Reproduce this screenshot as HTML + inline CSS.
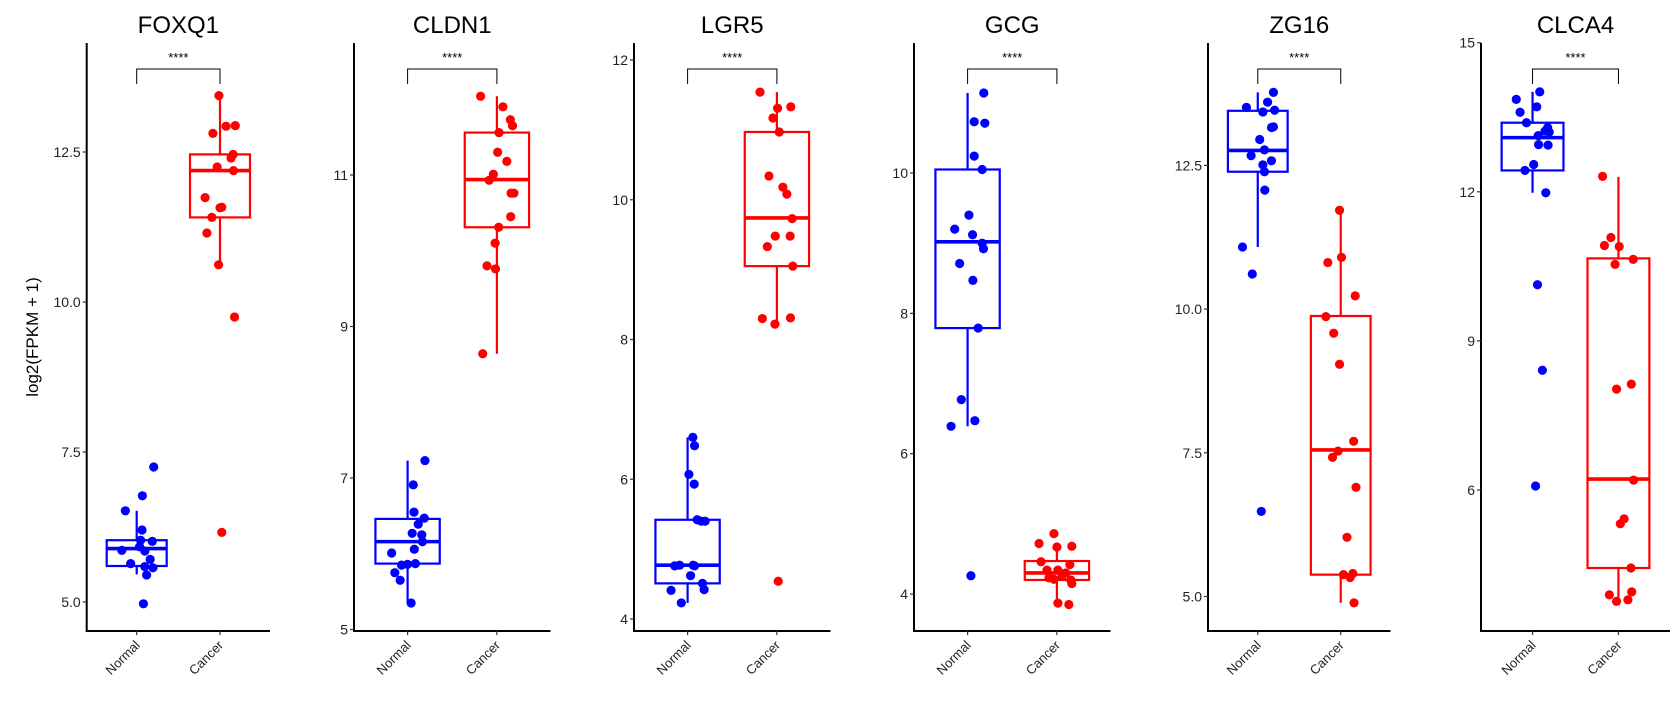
<!DOCTYPE html>
<html><head><meta charset="utf-8"><style>
html,body{margin:0;padding:0;background:#fff;}
svg{display:block;font-family:"Liberation Sans",Arial,sans-serif;}
</style></head><body>
<svg id="chart" width="1680" height="720" viewBox="0 0 1680 720" xmlns="http://www.w3.org/2000/svg">
<text transform="translate(38,337) rotate(-90)" text-anchor="middle" font-size="17" fill="#000">log2(FPKM + 1)</text>
</svg>
<script>
// ---- data ----
const genes = ["FOXQ1","CLDN1","LGR5","GCG","ZG16","CLCA4"];
const groups = ["Normal","Cancer"];
const tickValues = [[5,7.5,10,12.5],[5,7,9,11],[4,6,8,10,12],[4,6,8,10],[5,7.5,10,12.5],[6,9,12,15]];
const tickLabels = [["5.0","7.5","10.0","12.5"],["5","7","9","11"],["4","6","8","10","12"],["4","6","8","10"],["5.0","7.5","10.0","12.5"],["6","9","12","15"]];
const normalValues = [
 [6.52,6.77,7.25,6.20,6.03,6.01,5.86,5.92,5.85,5.71,5.64,5.59,5.57,5.45,4.97],
 [7.23,6.91,6.55,6.47,6.39,6.27,6.25,6.16,6.06,6.01,5.85,5.86,5.87,5.75,5.65,5.35],
 [6.60,6.48,6.07,5.93,5.42,5.40,5.40,4.76,4.77,4.77,4.76,4.62,4.51,4.42,4.41,4.23],
 [11.14,10.73,10.71,10.24,10.05,9.40,9.20,9.12,9.00,8.92,8.71,8.47,7.79,6.77,6.47,6.39,4.26],
 [13.77,13.51,13.60,13.43,13.46,13.16,13.17,12.95,12.77,12.67,12.58,12.51,12.39,12.07,11.08,10.61,6.48],
 [14.01,13.86,13.71,13.60,13.39,13.29,13.22,13.20,13.13,12.95,12.94,12.55,12.43,11.98,10.13,8.41,6.08]
];
const cancerValues = [
 [13.44,12.81,12.93,12.94,12.46,12.40,12.25,12.19,11.74,11.58,11.57,11.41,11.15,10.62,9.75,6.16],
 [12.04,11.90,11.73,11.65,11.56,11.30,11.18,11.01,10.93,10.76,10.76,10.45,10.31,10.10,9.80,9.76,8.64],
 [11.54,11.33,11.31,11.17,10.97,10.34,10.18,10.08,9.73,9.48,9.48,9.33,9.05,8.30,8.31,8.22,4.54],
 [4.86,4.72,4.67,4.68,4.46,4.42,4.34,4.34,4.30,4.23,4.21,4.25,4.20,4.15,3.87,3.85],
 [11.72,10.90,10.81,10.23,9.87,9.58,9.04,7.70,7.53,7.42,6.90,6.03,5.38,5.40,5.33,4.89],
 [12.31,11.08,10.92,10.90,10.64,10.54,8.13,8.03,6.20,5.42,5.32,4.43,3.89,3.95,3.76,3.79]
];
// box stats: [whiskerLow, q1, median, q3, whiskerHigh]
const normalBox = [[5.46,5.60,5.89,6.03,6.52],[5.35,5.87,6.16,6.46,7.23],[4.23,4.51,4.77,5.42,6.60],[6.39,7.79,9.02,10.05,11.14],[11.08,12.39,12.76,13.45,13.77],[11.98,12.43,13.09,13.39,14.01]];
const cancerBox = [[10.62,11.41,12.19,12.46,13.44],[8.64,10.31,10.94,11.56,12.04],[8.22,9.05,9.74,10.97,11.54],[3.84,4.20,4.30,4.47,4.67],[4.89,5.38,7.55,9.88,11.72],[3.76,4.43,6.22,10.66,12.30]];
// horizontal jitter offsets (measured units; divided by jitterUnit => fraction of category spacing)
const normalJitter = [
 [-32,16,48,15,11,44,-42,8,23,38,-17,23,46,28,19],
 [49,16,18,47,30,13,40,42,19,-45,-17,0,22,-36,-21,10],
 [16,21,4,20,29,41,53,-39,-24,17,21,9,45,50,-50,-19],
 [49,20,52,20,44,4,-39,15,44,48,-24,16,32,-19,22,-50,10],
 [40,-29,25,13,43,35,40,5,17,-17,35,13,17,18,-39,-14,9],
 [19,-43,11,-33,-16,40,33,44,15,16,41,3,-20,35,13,26,8]
];
const cancerJitter = [
 [-3,-20,17,43,37,31,-8,38,-42,5,0,-23,-37,-4,41,5],
 [-46,17,38,44,6,2,28,-10,-22,40,48,39,5,-5,-28,-4,-40],
 [-51,42,2,-12,7,-24,18,30,46,-5,40,-29,48,-44,41,-6,4],
 [-9,-54,0,45,-48,39,-30,3,27,-24,-9,15,42,45,3,36],
 [-3,2,-33,37,-38,-18,-3,33,-7,-21,39,16,7,31,24,34],
 [-42,-20,-37,2,39,-9,34,-5,40,15,5,33,-24,35,-5,25]
];
const jitterUnit = [235,252,270,270,212,227];
const signif = ["****","****","****","****","****","****"];

// ---- layout ----
const NS = "http://www.w3.org/2000/svg";
const svg = document.getElementById('chart');
const axisLeft = [86.7,354,634,914,1208,1481];
const axisRight = [270,550.5,830.5,1110.5,1390.5,1670];
const plotTop = 43, plotBottom = 631;
const yAnchorLo = [[5,602],[5,629.5],[4,619],[4,594],[5,596.5],[6,490]];
const yAnchorHi = [[12.5,152],[11,175],[12,60],[10,173],[12.5,165.4],[15,42.7]];
const colors = ["#0000FF","#FF0000"];

function mk(tag, attrs, parent){
  const e = document.createElementNS(NS, tag);
  for (const k in attrs) e.setAttribute(k, attrs[k]);
  (parent||svg).appendChild(e);
  return e;
}

genes.forEach((gene, p) => {
  const g = mk('g', {});
  
  
  const lo = yAnchorLo[p], hi = yAnchorHi[p];
  const y = v => lo[1] + (v - lo[0]) * (hi[1] - lo[1]) / (hi[0] - lo[0]);
  const L = axisLeft[p], R = axisRight[p], W = R - L;
  const xCat = i => L + W * (0.6 + i) / 2.2;
  const spacing = W / 2.2;

  const t = mk('text', {x: (L+R)/2, y: 33, 'text-anchor':'middle', 'font-size':'24', fill:'#000'}, g);
  t.textContent = gene;
  
  

  const ya = mk('line', {x1:L, y1:plotTop, x2:L, y2:plotBottom+1, stroke:'#000', 'stroke-width':2}, g);
  
  
  const xa = mk('line', {x1:L-1, y1:plotBottom, x2:R, y2:plotBottom, stroke:'#000', 'stroke-width':2}, g);
  
  

  tickValues[p].forEach((v, i) => {
    const ty = y(v);
    const tk = mk('line', {x1:L-4, y1:ty, x2:L, y2:ty, stroke:'#333', 'stroke-width':1.2}, g);
    
    
    const tl = mk('text', {x:L-6, y:ty+5, 'text-anchor':'end', 'font-size':'14', fill:'#222'}, g);
    tl.textContent = tickLabels[p][i];
    
    
  });

  groups.forEach((grp, i) => {
    const cx = xCat(i);
    const tk = mk('line', {x1:cx, y1:plotBottom, x2:cx, y2:plotBottom+4, stroke:'#333', 'stroke-width':1.2}, g);
    
    
    const xl = mk('text', {transform:`translate(${cx+4},${plotBottom+15}) rotate(-45)`, 'text-anchor':'end', 'font-size':'13', fill:'#222'}, g);
    xl.textContent = grp;
    
    

    const st = (i === 0 ? normalBox : cancerBox)[p];
    const col = colors[i];
    const bw = spacing * 0.72;
    const bg = mk('g', {}, g);
    
    
    mk('line', {x1:cx, y1:y(st[4]), x2:cx, y2:y(st[3]), stroke:col, 'stroke-width':2.2}, bg);
    mk('line', {x1:cx, y1:y(st[1]), x2:cx, y2:y(st[0]), stroke:col, 'stroke-width':2.2}, bg);
    mk('rect', {x:cx-bw/2, y:y(st[3]), width:bw, height:y(st[1])-y(st[3]), fill:'none', stroke:col, 'stroke-width':2.2}, bg);
    mk('line', {x1:cx-bw/2, y1:y(st[2]), x2:cx+bw/2, y2:y(st[2]), stroke:col, 'stroke-width':3.6}, bg);

    const vals = (i === 0 ? normalValues : cancerValues)[p];
    const jit = (i === 0 ? normalJitter : cancerJitter)[p];
    vals.forEach((v, k) => {
      const c = mk('circle', {cx: cx + (jit[k] / jitterUnit[p]) * spacing, cy: y(v), r: 4.6, fill: col}, g);
      
      
    });
  });

  const x0 = xCat(0), x1 = xCat(1);
  const br = mk('path', {d:`M${x0},84 V69 H${x1} V84`, fill:'none', stroke:'#000', 'stroke-width':1}, g);
  
  
  const sl = mk('text', {x:(x0+x1)/2, y:62, 'text-anchor':'middle', 'font-size':'13', fill:'#000'}, g);
  sl.textContent = signif[p];
  
  
});
</script>
</body></html>
